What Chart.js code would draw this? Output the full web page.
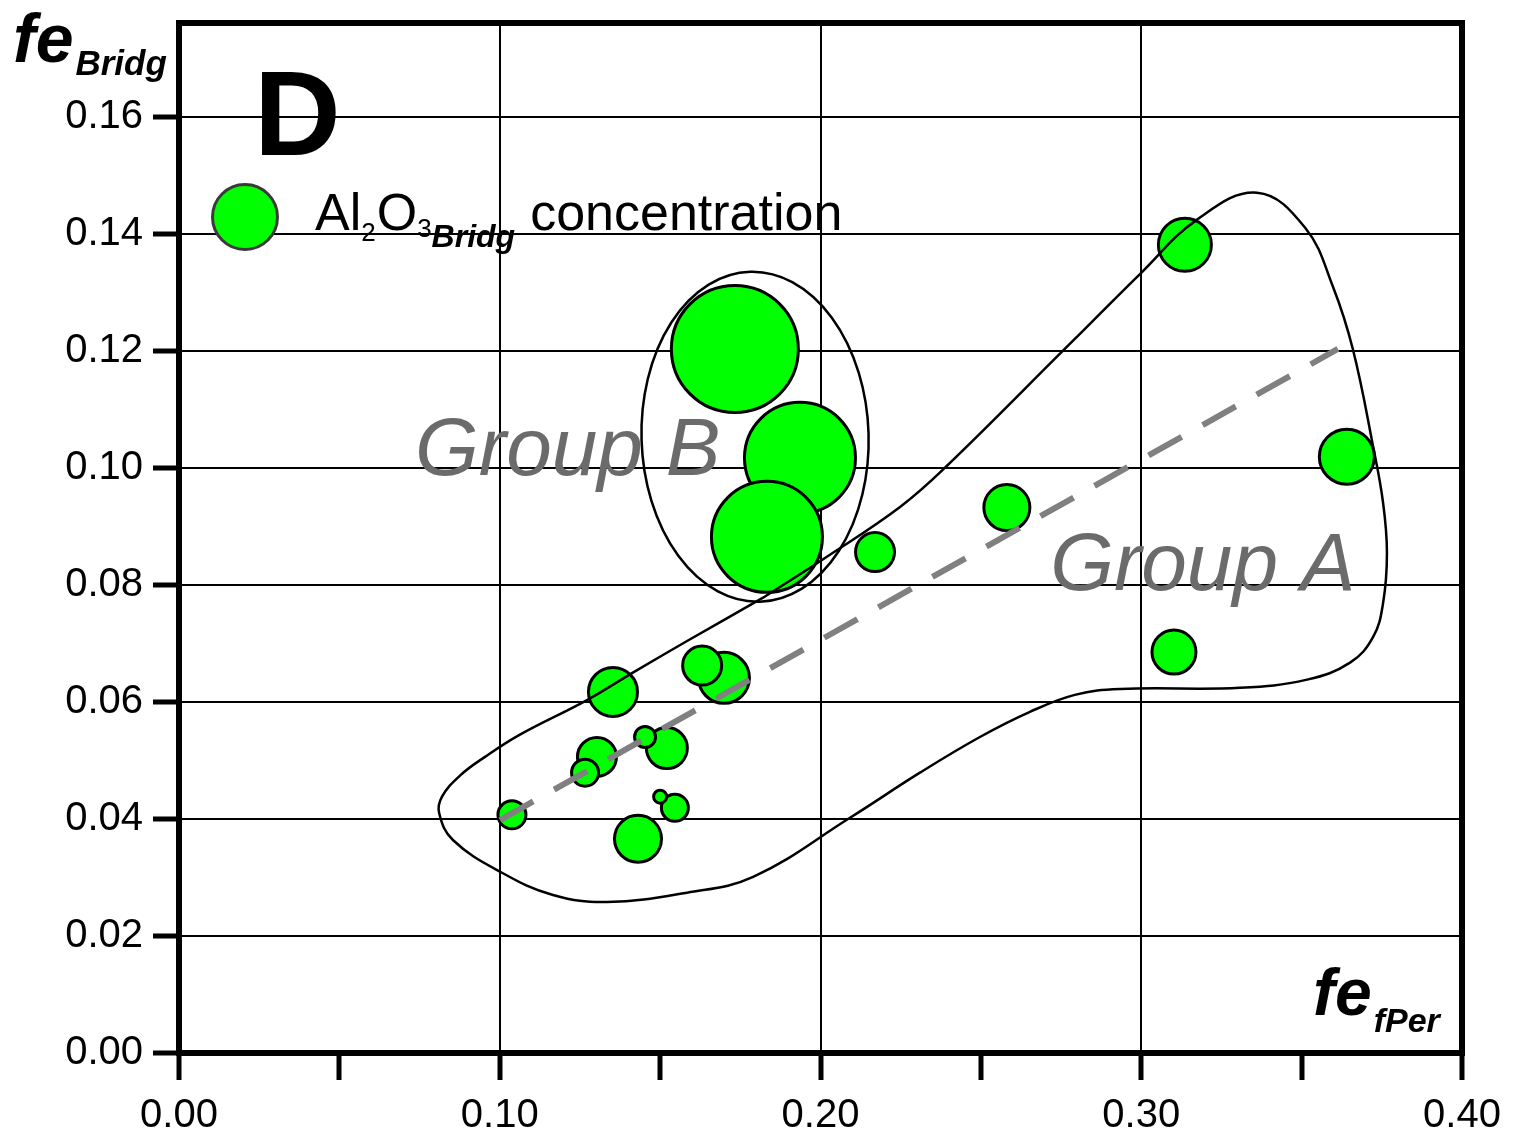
<!DOCTYPE html>
<html>
<head>
<meta charset="utf-8">
<script src="https://cdn.jsdelivr.net/npm/chart.js@4.4.0/dist/chart.umd.min.js"></script>
<style>
  html, body { margin: 0; padding: 0; background: #fff; }
</style>
</head>
<body>
<canvas id="feChart" width="1518" height="1136"></canvas>
<script>
// fe of ferropericlase (x) against fe of bridgmanite (y)
// bubble size = Al2O3 in bridgmanite (radius in px)
const feFPer   = [0.3136, 0.3641, 0.1733, 0.1936, 0.1833, 0.2170, 0.2581, 0.3102, 0.1353, 0.1699,
                  0.1631, 0.1303, 0.1266, 0.1521, 0.1453, 0.1546, 0.1500, 0.1431, 0.1038];
const feBridg  = [0.1381, 0.1019, 0.1203, 0.1017, 0.0882, 0.0856, 0.0932, 0.0685, 0.0617, 0.0641,
                  0.0662, 0.0506, 0.0479, 0.0521, 0.0540, 0.0419, 0.0438, 0.0366, 0.0407];
const al2o3Size = [26.5, 27.5, 63.5, 55.5, 55.5, 19.5, 23, 22, 24.5, 25.5,
                   19.5, 19.5, 13.5, 20.5, 10.5, 13.5, 6.5, 23.5, 14];

// hand drawn outline round group A (closed, first point repeated)
const groupAX = [0.1821, 0.2020, 0.2248, 0.2388, 0.2756, 0.2871, 0.2996, 0.3174, 0.3361, 0.3511,
                 0.3598, 0.3660, 0.3723, 0.3754, 0.3766, 0.3754, 0.3723, 0.3651, 0.3517, 0.3308,
                 0.2934, 0.2793, 0.2653, 0.2497, 0.2310, 0.2092, 0.1790, 0.1584, 0.1334, 0.1166,
                 0.1007, 0.0854, 0.0811, 0.0820, 0.0876, 0.0954, 0.1063, 0.1272, 0.1415, 0.1584, 0.1821];
const groupAY = [0.0778, 0.0848, 0.0933, 0.1000, 0.1200, 0.1263, 0.1331, 0.1424, 0.1470, 0.1410,
                 0.1309, 0.1202, 0.1036, 0.0940, 0.0855, 0.0769, 0.0711, 0.0667, 0.0638, 0.0624,
                 0.0622, 0.0612, 0.0583, 0.0540, 0.0479, 0.0402, 0.0301, 0.0274, 0.0258, 0.0270,
                 0.0308, 0.0364, 0.0410, 0.0438, 0.0474, 0.0506, 0.0544, 0.0603, 0.0650, 0.0704, 0.0778];

// group B ellipse: centre, half axes (data units), small tilt
const groupBCentre = [0.1796, 0.1053];
const groupBHalf = [0.0354, 0.0282];
const groupBTilt = -0.03;

// dashed trend line
const trendX = [0.1001, 0.3613];
const trendY = [0.0398, 0.1203];

const xTicks = [0, 0.05, 0.10, 0.15, 0.20, 0.25, 0.30, 0.35, 0.40];
const yTicks = [0, 0.02, 0.04, 0.06, 0.08, 0.10, 0.12, 0.14, 0.16];

const FONT = "'Liberation Sans', Arial, Helvetica, sans-serif";

const bubbles = feFPer.map((x, i) => ({ x: x, y: feBridg[i], r: al2o3Size[i] }));
const outline = groupAX.map((x, i) => ({ x: x, y: groupAY[i] }));
const trend = trendX.map((x, i) => ({ x: x, y: trendY[i] }));

const isMajor = v => Math.round(v * 100) % 10 === 0;

// text written in runs: [text, font, dx, dy]
function drawRuns(ctx, x, y, runs) {
  let cx = x;
  runs.forEach(r => {
    ctx.font = r[1];
    ctx.fillText(r[0], cx, y + (r[3] || 0));
    cx += ctx.measureText(r[0]).width + (r[2] || 0);
  });
}

// no extra room for tick label overflow, the plot box is placed by hand
function noPad(s) {
  s.paddingTop = 0; s.paddingBottom = 0; s.paddingLeft = 0; s.paddingRight = 0;
}

const decorations = {
  id: 'decorations',
  beforeDatasetsDraw(chart) {
    const { ctx, scales: { x, y } } = chart;
    ctx.save();
    ctx.fillStyle = '#6b6b6b';
    ctx.font = 'italic 82px ' + FONT;
    ctx.textBaseline = 'alphabetic';
    ctx.fillText('Group B', x.getPixelForValue(0.0736), y.getPixelForValue(0.0988));
    ctx.fillText('Group A', x.getPixelForValue(0.2716), y.getPixelForValue(0.0791));
    ctx.restore();
  },
  afterDatasetsDraw(chart) {
    const { ctx, chartArea: a, scales: { x, y } } = chart;
    ctx.save();

    // group B ellipse
    const cx = x.getPixelForValue(groupBCentre[0]);
    const cy = y.getPixelForValue(groupBCentre[1]);
    const rx = x.getPixelForValue(groupBCentre[0] + groupBHalf[0]) - cx;
    const ry = cy - y.getPixelForValue(groupBCentre[1] + groupBHalf[1]);
    ctx.beginPath();
    ctx.ellipse(cx, cy, rx, ry, groupBTilt, 0, Math.PI * 2);
    ctx.lineWidth = 2.5;
    ctx.strokeStyle = '#000';
    ctx.stroke();

    // frame
    ctx.lineWidth = 6;
    ctx.strokeRect(a.left, a.top, a.right - a.left, a.bottom - a.top);

    ctx.fillStyle = '#000';
    ctx.textBaseline = 'alphabetic';

    // panel letter
    ctx.font = 'bold 120px ' + FONT;
    ctx.fillText('D', 254, 155);

    // axis titles
    drawRuns(ctx, 13, 62, [['fe', 'bold italic 68px ' + FONT, 2], ['Bridg', 'bold italic 35px ' + FONT, 0, 13]]);
    drawRuns(ctx, 1313, 1015, [['fe', 'bold italic 66px ' + FONT, 2], ['fPer', 'bold italic 34px ' + FONT, 0, 17]]);

    // legend
    ctx.beginPath();
    ctx.arc(245, 217, 32.5, 0, Math.PI * 2);
    ctx.fillStyle = '#00ff00';
    ctx.fill();
    ctx.lineWidth = 3;
    ctx.strokeStyle = '#3a3a3a';
    ctx.stroke();
    ctx.fillStyle = '#000';
    drawRuns(ctx, 315, 230, [
      ['Al', '52px ' + FONT, 0],
      ['2', '26px ' + FONT, 1, 11],
      ['O', '52px ' + FONT, 0],
      ['3', '26px ' + FONT, 0, 7],
      ['Bridg', 'bold italic 32px ' + FONT, 15, 17],
      ['concentration', '52px ' + FONT, 0]
    ]);
    ctx.restore();
  }
};

new Chart(document.getElementById('feChart'), {
  type: 'bubble',
  data: {
    datasets: [
      {
        type: 'line',
        data: trend,
        borderColor: '#808080',
        borderWidth: 6,
        borderDash: [38, 24],
        borderCapStyle: 'butt',
        pointRadius: 0,
        fill: false,
        order: 0
      },
      {
        type: 'line',
        data: outline,
        borderColor: '#000',
        borderWidth: 2.5,
        tension: 0.4,
        pointRadius: 0,
        fill: false,
        order: 1
      },
      {
        data: bubbles,
        backgroundColor: '#00ff00',
        borderColor: '#000',
        borderWidth: 3,
        order: 2
      }
    ]
  },
  options: {
    responsive: false,
    animation: false,
    events: [],
    layout: { autoPadding: false, padding: { top: 23, right: 56, left: 0, bottom: 0 } },
    plugins: { legend: { display: false }, tooltip: { enabled: false } },
    scales: {
      x: {
        type: 'linear',
        min: 0,
        max: 0.40,
        afterBuildTicks: s => { s.ticks = xTicks.map(v => ({ value: v })); },
        afterFit: s => { s.height = 83; noPad(s); },
        border: { display: false },
        grid: {
          color: c => (c.tick && isMajor(c.tick.value)) ? '#000' : 'rgba(0,0,0,0)',
          lineWidth: 2,
          tickColor: '#000',
          tickWidth: 5,
          tickLength: 27
        },
        ticks: {
          autoSkip: false,
          maxRotation: 0,
          padding: 12,
          color: '#000',
          font: { family: FONT, size: 40 },
          callback: v => isMajor(v) ? v.toFixed(2) : ''
        }
      },
      y: {
        type: 'linear',
        min: 0,
        max: 0.176,
        afterBuildTicks: s => { s.ticks = yTicks.map(v => ({ value: v })); },
        afterFit: s => { s.width = 179; noPad(s); },
        border: { display: false },
        grid: {
          color: '#000',
          lineWidth: 2,
          tickColor: '#000',
          tickWidth: 5,
          tickLength: 26
        },
        ticks: {
          padding: 10,
          color: '#000',
          font: { family: FONT, size: 40 },
          callback: v => v.toFixed(2)
        }
      }
    }
  },
  plugins: [decorations]
});
</script>
</body>
</html>
